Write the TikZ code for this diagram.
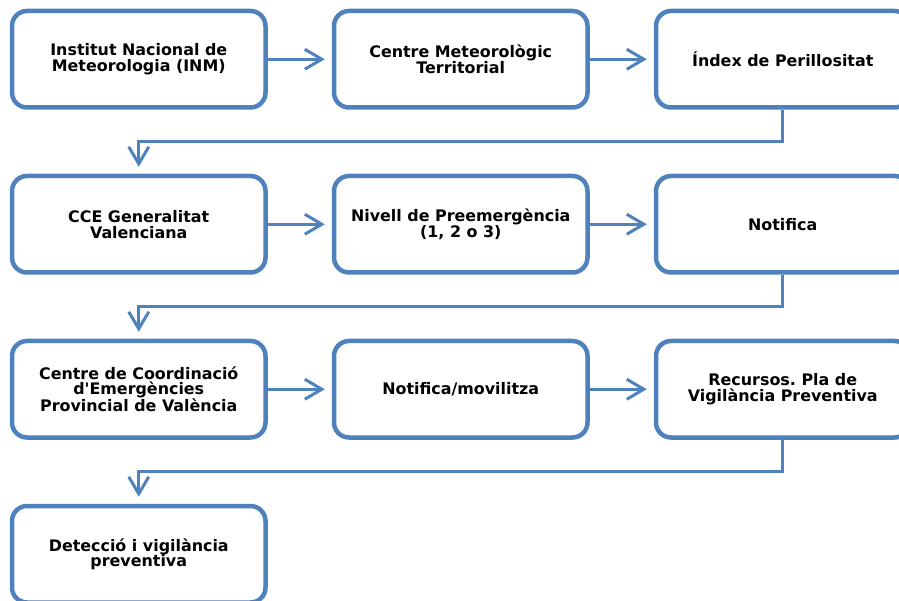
\documentclass[tikz,border=0pt]{standalone}
\usepackage{fontspec}
\newfontfamily\boxfont{DejaVu Sans}[BoldFont=DejaVu Sans Bold]
\usetikzlibrary{positioning,arrows.meta}
\definecolor{accentblue}{HTML}{4F81BD}
\frenchspacing

\begin{document}
\begin{tikzpicture}[
    x=1pt, y=-1pt,
    node distance=64pt and 64pt,
    box/.style={rectangle, draw=accentblue, line width=4.5pt, rounded corners=15pt, fill=white,
        minimum width=253.5pt, minimum height=96.5pt, align=center,
        font=\boxfont\bfseries\fontsize{15.9}{15.8}\selectfont},
    arrow/.style={-{Straight Barb[length=17pt, width=20pt]}, draw=accentblue, line width=3pt, shorten >=7pt}
]
\useasboundingbox (0,0) rectangle (899,601);

% Row 1
\node[box] (inm) at (138.75,59.25) {Institut Nacional de\\Meteorologia (INM)};
\node[box, right=of inm] (cmt) {Centre Meteorològic\\Territorial};
\node[box, right=of cmt] (idx) {Índex de Perillositat};

% Row 2
\node[box, below=of inm] (cce) {CCE Generalitat\\Valenciana};
\node[box, right=of cce] (niv) {Nivell de Preemergència\\(1, 2 o 3)};
\node[box, right=of niv] (not) {Notifica};

% Row 3
\node[box, below=of cce] (ccp) {Centre de Coordinació\\d'Emergències\\Provincial de València};
\node[box, right=of ccp] (mov) {Notifica/movilitza};
\node[box, right=of mov] (rec) {Recursos. Pla de\\Vigilància Preventiva};

% Row 4
\node[box, below=of ccp] (det) {Detecció i vigilància\\preventiva};

\draw[arrow] (inm) -- (cmt);
\draw[arrow] (cmt) -- (idx);
\draw[arrow] (idx.south) -- ++(0,32) -| (cce.north);

\draw[arrow] (cce) -- (niv);
\draw[arrow] (niv) -- (not);
\draw[arrow] (not.south) -- ++(0,32) -| (ccp.north);

\draw[arrow] (ccp) -- (mov);
\draw[arrow] (mov) -- (rec);
\draw[arrow] (rec.south) -- ++(0,32) -| (det.north);

\end{tikzpicture}
\end{document}
